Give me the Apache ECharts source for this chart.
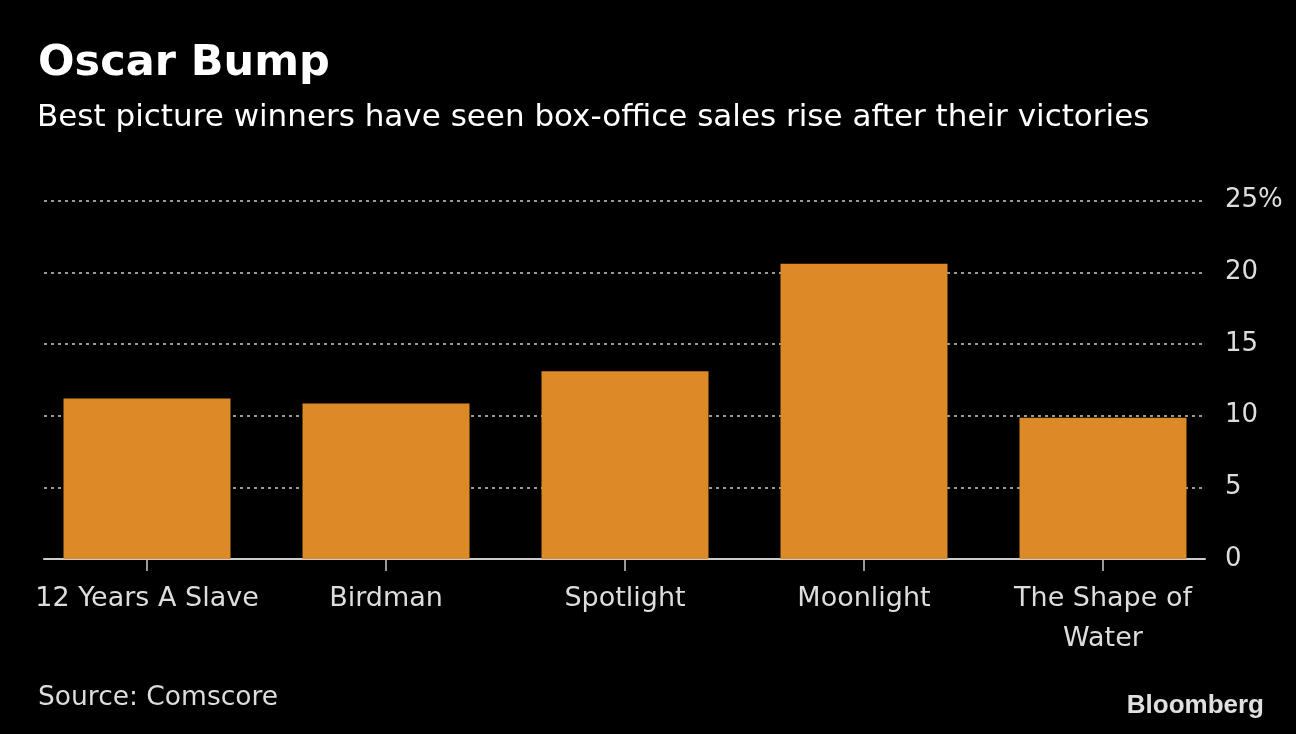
<!DOCTYPE html>
<html>
<head>
<meta charset="utf-8">
<script src="https://cdn.jsdelivr.net/npm/echarts@6/dist/echarts.min.js"></script>
<style>
html,body{margin:0;padding:0;background:#000;}
#c{width:1296px;height:734px;}
</style>
</head>
<body>
<div id="c"></div>
<script>
var categories = ['12 Years A Slave', 'Birdman', 'Spotlight', 'Moonlight', 'The Shape of\nWater'];
var salesRise = [11.2, 10.85, 13.1, 20.6, 9.85];
var yTicks = [0, 5, 10, 15, 20, 25];

var FONT = '"DejaVu Sans", sans-serif';
var chart = echarts.init(document.getElementById('c'), null, {renderer: 'canvas'});
chart.setOption({
  backgroundColor: '#000',
  animation: false,
  title: [
    {text: 'Oscar Bump', left: 33, top: 37,
     textStyle: {color: '#fff', fontFamily: FONT, fontWeight: 'bold', fontSize: 43}},
    {text: 'Best picture winners have seen box-office sales rise after their victories', left: 32, top: 97,
     textStyle: {color: '#fff', fontFamily: FONT, fontWeight: 'normal', fontSize: 31}},
    {text: 'Source: Comscore', left: 33, top: 680,
     textStyle: {color: '#ddd', fontFamily: FONT, fontWeight: 'normal', fontSize: 26.5}},
    {text: 'Bloomberg', right: 27, top: 688,
     textStyle: {color: '#e0e0e0', fontFamily: '"Liberation Sans", Arial, sans-serif', fontWeight: 'bold', fontSize: 26, letterSpacing: -0.5}}
  ],
  grid: [
    {left: 27.5, width: 1195, top: 200.7, bottom: 734 - 559, containLabel: false},
    {left: 44, right: 91, top: 200.7, bottom: 734 - 559, containLabel: false}
  ],
  xAxis: [
    {type: 'category', gridIndex: 0, data: categories,
     axisLine: {show: false},
     axisTick: {show: true, alignWithLabel: true, length: 12, lineStyle: {color: '#ccc', width: 1.5}},
     axisLabel: {color: '#ddd', fontFamily: FONT, fontSize: 27, margin: 20, lineHeight: 40, interval: 0}},
    {type: 'value', gridIndex: 1, min: 0, max: 1, show: true,
     axisLine: {show: true, onZero: false, lineStyle: {color: '#ccc', width: 2}},
     axisTick: {show: false}, axisLabel: {show: false}, splitLine: {show: false}}
  ],
  yAxis: [
    {type: 'value', gridIndex: 0, min: 0, max: 25, interval: 5, show: false, splitLine: {show: false}},
    {type: 'value', gridIndex: 1, min: 0, max: 25, interval: 5, position: 'right',
     axisLine: {show: false}, axisTick: {show: false},
     axisLabel: {color: '#ddd', fontFamily: FONT, fontSize: 26, margin: 20,
       formatter: function (v) { return v === yTicks[yTicks.length - 1] ? v + '%' : String(v); }},
     splitLine: {show: true, lineStyle: {color: '#999', type: [3, 4], width: 2}}}
  ],
  series: [
    {type: 'bar', xAxisIndex: 0, yAxisIndex: 0, data: salesRise, barWidth: 167,
     itemStyle: {color: '#DB8A27'}, z: 3}
  ]
});
</script>
</body>
</html>
